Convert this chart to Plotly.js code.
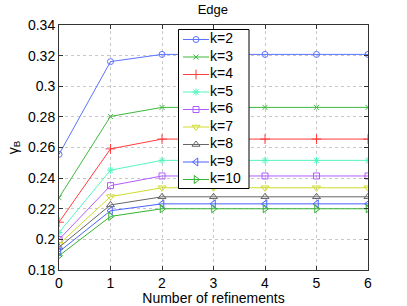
<!DOCTYPE html>
<html><head><meta charset="utf-8">
<script src="https://cdn.plot.ly/plotly-3.0.1.min.js"></script>
<style>html,body{margin:0;padding:0;background:#fff;}#chart{width:407px;height:306px;}</style>
</head><body><div id="chart"></div>
<script>
const refinements = [0, 1, 2, 3, 4, 5, 6];
const seriesNames = ["k=2","k=3","k=4","k=5","k=6","k=7","k=8","k=9","k=10"];
const k2  = [0.2555, 0.3161, 0.3208, 0.3208, 0.3208, 0.3208, 0.3208];
const k3  = [0.2272, 0.2803, 0.2862, 0.2862, 0.2862, 0.2862, 0.2862];
const k4  = [0.2112, 0.2591, 0.2655, 0.2655, 0.2655, 0.2655, 0.2655];
const k5  = [0.2045, 0.2452, 0.2516, 0.2516, 0.2516, 0.2516, 0.2516];
const k6  = [0.1999, 0.2351, 0.2414, 0.2414, 0.2414, 0.2414, 0.2414];
const k7  = [0.1968, 0.2279, 0.2337, 0.2337, 0.2337, 0.2337, 0.2337];
const k8  = [0.1948, 0.2225, 0.2278, 0.2278, 0.2278, 0.2278, 0.2278];
const k9  = [0.1919, 0.2187, 0.2232, 0.2232, 0.2232, 0.2232, 0.2232];
const k10 = [0.1893, 0.2150, 0.2200, 0.2200, 0.2200, 0.2200, 0.2200];
const yTickVals = [0.18, 0.2, 0.22, 0.24, 0.26, 0.28, 0.3, 0.32, 0.34];
const yTickText = ["0.18","0.2","0.22","0.24","0.26","0.28","0.3","0.32","0.34"];

const allSeries = [k2,k3,k4,k5,k6,k7,k8,k9,k10];
const colors = ["#5b73ff","#3cb93c","#ff3d3d","#55f5c0","#b45cff","#cfdc2a","#666666","#4a63ff","#33b233"];
const symbols = ["circle-open","x-thin-open","cross-thin-open","asterisk-open","square-open","triangle-down-open","triangle-up-open","triangle-left-open","triangle-right-open"];
const sizes = [6,5,7,6,6,7,7,7,7];
const font = {family: "Liberation Sans, Arial, Helvetica, sans-serif", size: 14, color: "#000"};

const traces = allSeries.map((ys, i) => ({
  x: refinements, y: ys, name: seriesNames[i], type: "scatter", mode: "lines+markers", showlegend: false,
  line: {color: colors[i], width: 1},
  marker: {symbol: symbols[i], size: sizes[i], color: colors[i], line: {color: colors[i], width: 1}}
}));

// Legend drawn on an overlay axis pair measured in pixels of the plot area
const plotL = 59, plotR = 368, plotT = 25, plotB = 270;
const legBox = {l: 178.5, r: 249, t: 29.5, b: 188.5};
const rowTop = 39.5, rowGap = 17.5;
traces.push({
  x: [legBox.l, legBox.r, legBox.r, legBox.l, legBox.l], y: [legBox.t, legBox.t, legBox.b, legBox.b, legBox.t],
  xaxis: "x2", yaxis: "y2", type: "scatter", mode: "lines", fill: "toself", fillcolor: "#fff",
  line: {color: "#000", width: 1}, showlegend: false, hoverinfo: "skip"
});
seriesNames.forEach((nm, i) => {
  const yy = rowTop + i * rowGap;
  traces.push({x: [183, 209], y: [yy, yy], xaxis: "x2", yaxis: "y2", type: "scatter", mode: "lines",
    line: {color: colors[i], width: 1}, showlegend: false, hoverinfo: "skip"});
  traces.push({x: [196], y: [yy], xaxis: "x2", yaxis: "y2", type: "scatter", mode: "markers",
    marker: {symbol: symbols[i], size: sizes[i], color: colors[i], line: {color: colors[i], width: 1}},
    showlegend: false, hoverinfo: "skip"});
});
traces.push({x: seriesNames.map(() => 210), y: seriesNames.map((_, i) => rowTop + i * rowGap), text: seriesNames,
  xaxis: "x2", yaxis: "y2", type: "scatter", mode: "text", textposition: "middle right",
  textfont: {family: font.family, size: 14, color: "#000"}, showlegend: false, hoverinfo: "skip", cliponaxis: false});

const layout = {
  width: 407, height: 306,
  margin: {l: plotL, r: 407 - plotR, t: plotT, b: 306 - plotB, autoexpand: false},
  paper_bgcolor: "#fff", plot_bgcolor: "#fff",
  font: font,
  title: {text: "Edge", font: {family: font.family, size: 13, color: "#000"}, x: 0.523, xanchor: "center", y: 0.985, yanchor: "top"},
  showlegend: false,
  xaxis: {range: [0, 6], tickvals: refinements, ticks: "inside", ticklen: 4, tickcolor: "#333", mirror: "ticks",
          showline: true, linecolor: "#333", linewidth: 1, showgrid: true, gridcolor: "#c8c8c8", griddash: "dot", gridwidth: 1,
          zeroline: false, tickfont: font, automargin: false,
          title: {text: "Number of refinements", font: font, standoff: 1}},
  yaxis: {range: [0.18, 0.34], tickvals: yTickVals, ticktext: yTickText, ticks: "inside", ticklen: 4, tickcolor: "#333", mirror: "ticks",
          showline: true, linecolor: "#333", linewidth: 1, showgrid: true, gridcolor: "#c8c8c8", griddash: "dot", gridwidth: 1,
          zeroline: false, tickfont: font, automargin: false,
          title: {text: "γ<sub>B</sub>", font: font, standoff: 6}},
  xaxis2: {overlaying: "x", range: [plotL, plotR], visible: false, fixedrange: true},
  yaxis2: {overlaying: "y", range: [plotB, plotT], visible: false, fixedrange: true}
};
Plotly.newPlot("chart", traces, layout, {displayModeBar: false, staticPlot: true});
</script></body></html>
